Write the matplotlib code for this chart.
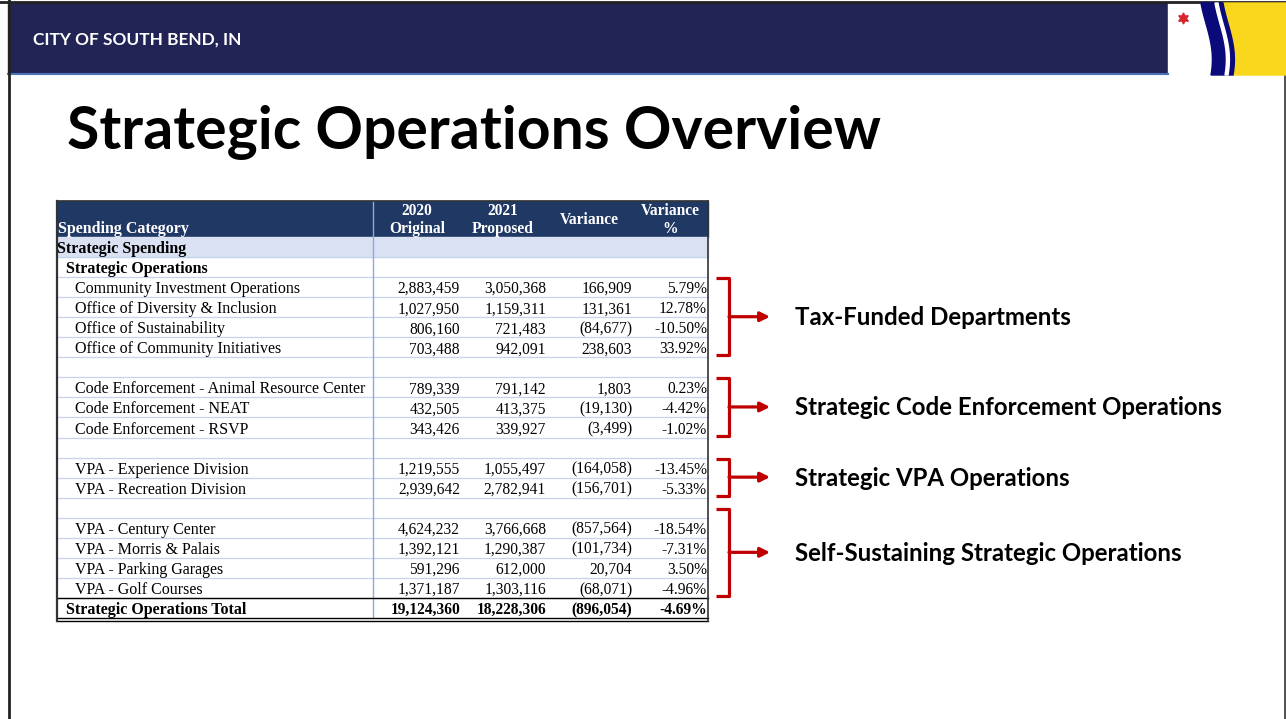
import numpy as np
import matplotlib
matplotlib.use("Agg")
import matplotlib.pyplot as plt
from matplotlib.patches import Rectangle, Polygon
from matplotlib.lines import Line2D

# ---- data ----
categories = [
    "Strategic Spending", "Strategic Operations",
    "Community Investment Operations", "Office of Diversity & Inclusion",
    "Office of Sustainability", "Office of Community Initiatives", "",
    "Code Enforcement - Animal Resource Center", "Code Enforcement - NEAT",
    "Code Enforcement - RSVP", "",
    "VPA - Experience Division", "VPA - Recreation Division", "",
    "VPA - Century Center", "VPA - Morris & Palais", "VPA - Parking Garages",
    "VPA - Golf Courses", "Strategic Operations Total",
]
indent = [0, 1, 2, 2, 2, 2, 2, 2, 2, 2, 2, 2, 2, 2, 2, 2, 2, 2, 1]
orig_2020 = [None, None, 2883459, 1027950, 806160, 703488, None,
             789339, 432505, 343426, None, 1219555, 2939642, None,
             4624232, 1392121, 591296, 1371187, 19124360]
prop_2021 = [None, None, 3050368, 1159311, 721483, 942091, None,
             791142, 413375, 339927, None, 1055497, 2782941, None,
             3766668, 1290387, 612000, 1303116, 18228306]
variance = [None, None, 166909, 131361, -84677, 238603, None,
            1803, -19130, -3499, None, -164058, -156701, None,
            -857564, -101734, 20704, -68071, -896054]
variance_pct = [None, None, 5.79, 12.78, -10.50, 33.92, None,
                0.23, -4.42, -1.02, None, -13.45, -5.33, None,
                -18.54, -7.31, 3.50, -4.96, -4.69]
col_headers = ["2020\nOriginal", "2021\nProposed", "Variance", "Variance\n%"]

group_labels = ["Tax-Funded Departments", "Strategic Code Enforcement Operations",
                "Strategic VPA Operations", "Self-Sustaining Strategic Operations"]
group_rows = [(2, 5), (7, 9), (11, 12), (14, 17)]

# ---- style ----
NAVY = "#232456"
TBL_NAVY = "#1f3864"
SHADE = "#d9e1f2"
GRID = "#c5d3ec"
RED = "#c00000"
SERIF = "Liberation Serif"
SANS = "Lato"

W, H = 1286, 719
fig = plt.figure(figsize=(W / 100, H / 100), dpi=100)
ax = fig.add_axes([0, 0, 1, 1])
ax.set_xlim(0, W)
ax.set_ylim(H, 0)
ax.axis("off")

# slide frame + header bar
ax.add_patch(Rectangle((8, 3), 1160, 70, color=NAVY, zorder=1))
ax.add_line(Line2D([8, 1168], [74, 74], color="#4a72b8", lw=1.5))
ax.add_line(Line2D([0, W], [2, 2], color="#222222", lw=2))
ax.add_line(Line2D([9, 9], [0, H], color="#222222", lw=2))
ax.add_line(Line2D([1284.5, 1284.5], [75, H], color="#333333", lw=1.2))
ax.text(33, 40, "CITY OF SOUTH BEND, IN", color="white", fontsize=12.4,
        fontweight="bold", family=SANS, va="center", ha="left")

# logo
ax.add_patch(Rectangle((1168, 3), 118, 72, color="white", zorder=1))
yy = np.linspace(3, 75, 40)
shift = 10 * (1 - np.cos(np.pi * (yy - 3) / 72)) / 2 + 4 * np.sin(np.pi * (yy - 3) / 72)
xl = 1201 + shift
ax.add_patch(Polygon(np.r_[np.c_[xl + 22, yy], [[1286, 75], [1286, 3]]],
                     closed=True, color="#f9d71c", zorder=2))
ax.add_patch(Polygon(np.r_[np.c_[xl, yy], np.c_[xl + 22, yy][::-1]],
                     closed=True, color="#0a0a7a", zorder=3))
ax.add_patch(Polygon(np.r_[np.c_[xl + 14, yy], np.c_[xl + 17, yy][::-1]],
                     closed=True, color="white", zorder=4))
ax.plot([1183], [18], marker=(6, 1, 0), markersize=8, color="#d7262e", zorder=4)

# title
ax.text(67, 133, "Strategic Operations Overview", fontsize=42.4, fontweight="bold",
        family=SANS, color="black", va="center", ha="left")

# ---- table ----
x0, x_cat, x1 = 57, 373, 708
col_right = [460, 546, 632, 707]
col_center = [417, 503, 589, 670]
y_top, head_h = 201, 36
row_h = (618 - 237) / len(categories)


def row_top(i):
    return y_top + head_h + i * row_h


ax.add_patch(Rectangle((x0, y_top), x1 - x0, head_h, color=TBL_NAVY, zorder=2))
ax.add_patch(Rectangle((x0, row_top(0)), x1 - x0, row_h, color=SHADE, zorder=2))

for i in range(1, len(categories)):
    ax.add_line(Line2D([x0, x1], [row_top(i)] * 2, color=GRID, lw=0.9, zorder=3))
ax.add_line(Line2D([x_cat, x_cat], [y_top, row_top(len(categories))],
                   color="#8eaadb", lw=1, zorder=3))

ax.text(x0 + 1, 229, "Spending Category", color="white", family=SERIF, fontsize=11.5,
        fontweight="bold", va="center", ha="left", zorder=5)
for cx, hd in zip(col_center, col_headers):
    ax.text(cx, 220, hd, color="white", family=SERIF, fontsize=11.2, fontweight="bold",
            va="center", ha="center", linespacing=1.2, zorder=5)


def fmt_num(v):
    if v is None:
        return ""
    return f"({abs(v):,})" if v < 0 else f"{v:,}"


last = len(categories) - 1
for i, name in enumerate(categories):
    yc = row_top(i) + row_h / 2 + 2
    bold = indent[i] < 2
    wt = "bold" if bold else "normal"
    ax.text(x0 + indent[i] * 9, yc, name, family=SERIF, fontsize=11.5, fontweight=wt,
            va="center", ha="left", color="black", zorder=5)
    vals = [fmt_num(orig_2020[i]), fmt_num(prop_2021[i]), fmt_num(variance[i]),
            "" if variance_pct[i] is None else f"{variance_pct[i]:.2f}%"]
    for xr, s in zip(col_right, vals):
        ax.text(xr, yc, s, family=SERIF, fontsize=11.2, fontweight=wt,
                va="center", ha="right", color="black", zorder=5)

# borders
y_bot = row_top(len(categories))
ax.add_line(Line2D([x0, x1], [row_top(last)] * 2, color="black", lw=1, zorder=4))
ax.add_line(Line2D([x0, x1], [y_bot] * 2, color="black", lw=1, zorder=4))
ax.add_line(Line2D([x0, x1], [y_bot + 2.5] * 2, color="black", lw=1, zorder=4))
ax.add_line(Line2D([x0, x1], [y_top, y_top], color="#333333", lw=1.2, zorder=4))
ax.add_line(Line2D([x0, x0], [y_top, y_bot + 2.5], color="#333333", lw=1.6, zorder=4))
ax.add_line(Line2D([x1, x1], [y_top, y_bot + 2.5], color="#333333", lw=1.2, zorder=4))

# ---- brackets + arrows ----
bx_in, bx = 716, 729
top_pad = [0, 0, 0, 10]
for (r0, r1), lab, pad in zip(group_rows, group_labels, top_pad):
    ya = row_top(r0) + 1 - pad
    yb = row_top(r1 + 1) - 2
    ax.add_line(Line2D([bx_in, bx, bx, bx_in], [ya, ya, yb, yb], color=RED, lw=2.3,
                       solid_joinstyle="round", solid_capstyle="butt", zorder=5))
    ym = (ya + yb) / 2
    ax.annotate("", xy=(770, ym), xytext=(bx, ym),
                arrowprops=dict(arrowstyle="-|>", color=RED, lw=2.3,
                                mutation_scale=14, shrinkA=0, shrinkB=0), zorder=5)
    ax.text(795, ym + 1, lab, family=SANS, fontsize=17.3, fontweight="bold",
            color="black", va="center", ha="left")

fig.savefig("out.png", dpi=100)
